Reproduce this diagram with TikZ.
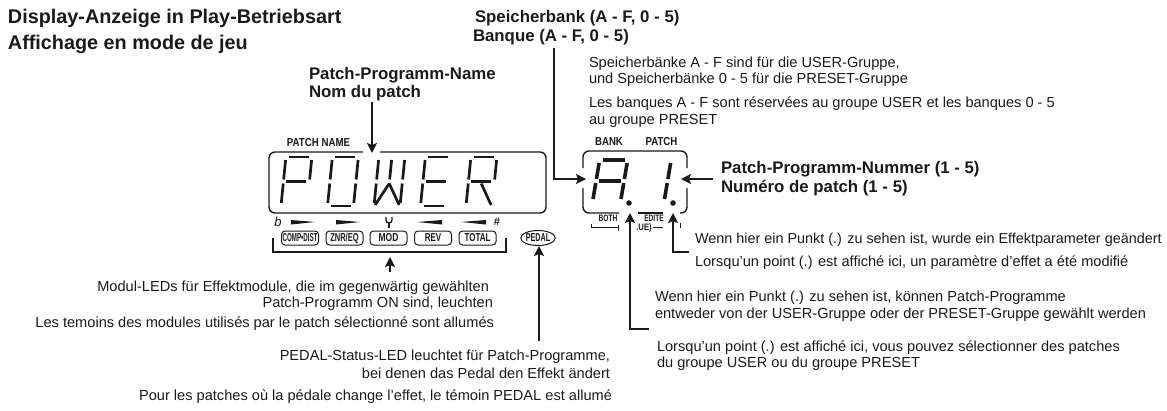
\documentclass[tikz,border=0pt]{standalone}
\usepackage{fontspec}
\usepackage{graphicx}
\setmainfont{Liberation Sans}[Ligatures=ResetAll]
\usetikzlibrary{arrows.meta,shapes.geometric}
\definecolor{ink}{HTML}{1A1A1A}
\tikzset{
  txt/.style={inner sep=0pt,outer sep=0pt,text=ink,font=\fontsize{14.6}{17}\selectfont},
  tl/.style={txt,anchor=base west},
  tr/.style={txt,anchor=base east},
  hd/.style={txt,anchor=base west,font=\fontsize{16.8}{19}\bfseries\selectfont},
  ttl/.style={txt,anchor=base west,font=\fontsize{19.8}{22}\bfseries\selectfont},
  small/.style={txt,anchor=center,font=\fontsize{11}{11}\bfseries\selectfont},
  lcd/.style={line width=1.4pt,draw=ink,rounded corners=6pt},
  segl/.style={line width=2.7pt,draw=ink,line cap=butt},
  wire/.style={line width=1.6pt,draw=ink},
  arr/.style={wire,-{Stealth[length=10pt,width=10pt,inset=2pt]}},
  btn/.style={draw=ink,line width=1pt,rounded corners=3.5pt,minimum width=37pt,minimum height=14pt,inner sep=0pt,text=ink,font=\fontsize{10}{10}\bfseries\selectfont},
  wedge/.style={fill=ink,draw=none}
}
\newcommand\ssg[4]{\draw[segl] ({\ox+#1+\slnt*(#2)},{\oy-(#2)}) -- ({\ox+#3+\slnt*(#4)},{\oy-(#4)});}
\newcommand\sT{\ssg{3}{\hh}{\ww-3}{\hh}}
\newcommand\sUR{\ssg{\ww}{\hh-3}{\ww}{\hh/2+2}}
\newcommand\sLR{\ssg{\ww}{\hh/2-2}{\ww}{3}}
\newcommand\sB{\ssg{3}{0}{\ww-3}{0}}
\newcommand\sLL{\ssg{0}{\hh/2-2}{0}{3}}
\newcommand\sUL{\ssg{0}{\hh-3}{0}{\hh/2+2}}
\newcommand\sM{\ssg{3}{\hh/2}{\ww-3}{\hh/2}}
\begin{document}
\begin{tikzpicture}[x=1pt,y=-1pt]
\useasboundingbox (0,0) rectangle (1167,410);
% titles
\node[ttl] (t1) at (8,23) {Display-Anzeige in Play-Betriebsart};
\node[ttl] (t2) at (8,49) {Affichage en mode de jeu};
\node[hd] (pn1) at (309,79) {Patch-Programm-Name};
\node[hd] (pn2) at (309,97) {Nom du patch};
\node[hd] (sb1) at (475,22) {Speicherbank (A - F, 0 - 5)};
\node[hd] (sb2) at (473,41) {Banque (A - F, 0 - 5)};
\node[hd] (pnr1) at (721,173) {Patch-Programm-Nummer (1 - 5)};
\node[hd] (pnr2) at (721,192) {Num\'ero de patch (1 - 5)};
% explanations
\node[tl] (e1) at (589,67) {Speicherb\"anke A - F sind f\"ur die USER-Gruppe,};
\node[tl] (e2) at (589,83) {und Speicherb\"anke 0 - 5 f\"ur die PRESET-Gruppe};
\node[tl] (e3) at (589,107) {Les banques A - F sont r\'eserv\'ees au groupe USER et les banques 0 - 5};
\node[tl] (e4) at (589,124) {au groupe PRESET};
\node[tl,font=\fontsize{14.4}{17}\selectfont] (w1) at (695,243) {Wenn hier ein Punkt (.) zu sehen ist, wurde ein Effektparameter ge\"andert};
\node[tl] (w2) at (695,266) {Lorsqu'un point (.) est affich\'e ici, un param\`etre d'effet a \'et\'e modifi\'e};
\node[tl] (w3) at (655,301) {Wenn hier ein Punkt (.) zu sehen ist, k\"onnen Patch-Programme};
\node[tl] (w4) at (655,318) {entweder von der USER-Gruppe oder der PRESET-Gruppe gew\"ahlt werden};
\node[tl] (w5) at (657,351) {Lorsqu'un point (.) est affich\'e ici, vous pouvez s\'electionner des patches};
\node[tl] (w6) at (657,367) {du groupe USER ou du groupe PRESET};
\node[tr] (m1) at (489,291) {Modul-LEDs f\"ur Effektmodule, die im gegenw\"artig gew\"ahlten};
\node[tr] (m2) at (493,307) {Patch-Programm ON sind, leuchten};
\node[tr] (m3) at (494,327) {Les temoins des modules utilis\'es par le patch s\'electionn\'e sont allum\'es};
\node[tr] (p1) at (610,360) {PEDAL-Status-LED leuchtet f\"ur Patch-Programme,};
\node[tr] (p2) at (610,378) {bei denen das Pedal den Effekt \"andert};
\node[tr] (p3) at (612,400) {Pour les patches o\`u la p\'edale change l'effet, le t\'emoin PEDAL est allum\'e};
% main display
\node[small] (lpn) at (318.5,143) {\scalebox{0.88}[1.05]{PATCH NAME}};
\draw[lcd] (363,152) -- (269,152) -- (269,213) -- (546,213) -- (546,152) -- (380,152);
\coordinate (mainTop) at (372,153);
\coordinate (pnTail) at (372,102);
\draw[arr] (pnTail) -- (mainTop);
% POWER
\def\slnt{0.1}\def\ww{26}\def\hh{49}\def\oy{206}
\def\ox{281}\sT\sUR\sUL\sLL\sM
\def\ox{327.5}\sT\sUR\sLR\sB\sLL\sUL
\def\ox{374}\sUL\sLL\sUR\sLR
\ssg{\ww/2}{\hh-3}{\ww/2}{\hh/2+2}
\ssg{1}{1}{\ww/2}{\hh/2-2}\ssg{\ww/2}{\hh/2-2}{\ww-1}{1}
\def\ox{420.5}\sT\sB\sLL\sUL\sM
\def\ox{466}\sT\sUR\sUL\sLL\sM
\ssg{\ww/2}{\hh/2-2}{\ww-1}{1}
% indicators
\node[txt,font=\fontsize{13}{13}\itshape\selectfont] (flat) at (278,222) {b};
\node[txt,font=\fontsize{11}{11}\bfseries\selectfont] (sharp) at (497,222) {\#};
\fill[wedge] (291,220) -- (315,222) -- (291,224.5) -- cycle;
\fill[wedge] (336,220) -- (360,222) -- (336,224.5) -- cycle;
\fill[wedge] (442,220) -- (417,222) -- (442,224.5) -- cycle;
\fill[wedge] (486,220) -- (461,222) -- (486,224.5) -- cycle;
\draw[line width=1.4pt,draw=ink] (386,217) -- (386,220) .. controls (386,224) and (392,224) .. (392,220) -- (392,217);
\draw[line width=1.4pt,draw=ink] (389,223) -- (389,228);
% buttons
\node[btn] (b1) at (300,238) {\scalebox{0.62}[1.15]{COMP\textbullet DIST}};
\node[btn] (b2) at (344.5,238) {\scalebox{0.75}[1.15]{ZNR/EQ}};
\node[btn] (b3) at (388.5,238) {\scalebox{0.85}[1.15]{MOD}};
\node[btn] (b4) at (433,238) {\scalebox{0.8}[1.15]{REV}};
\node[btn] (b5) at (477.5,238) {\scalebox{0.8}[1.15]{TOTAL}};
\node[draw=ink,line width=1pt,ellipse,minimum width=33pt,minimum height=15pt,inner sep=0pt,text=ink,font=\fontsize{10}{10}\bfseries\selectfont] (ped) at (538,238) {\scalebox{0.72}[1.15]{PEDAL}};
\draw[line width=1.4pt,draw=ink] (273,238) -- (273,252) -- (506,252) -- (506,238);
\coordinate (modTip) at (390,257);
\coordinate (modTail) at (390,272);
\draw[arr] (modTail) -- (modTip);
\coordinate (pedTail) at (539,341);
\draw[arr] (pedTail) -- (ped.south -| pedTail);
% right display
\node[small] (lbank) at (609,142) {\scalebox{0.88}[1.05]{BANK}};
\node[small] (lpatch) at (661.5,142) {\scalebox{0.88}[1.05]{PATCH}};
\draw[lcd] (583,168) -- (583,151) -- (687,151) -- (687,168);
\draw[lcd] (583,188) -- (583,213) -- (619,213);
\draw[lcd] (638,213) -- (663,213);
\draw[lcd] (680,213) -- (687,213) -- (687,188);
\tikzset{segl/.append style={line width=3.6pt}}
\def\slnt{0.17}\def\ww{28}\def\hh{42}\def\oy{202}
\def\ox{592.5}\sT\sUR\sLR\sLL\sUL\sM
\def\ox{663}\ssg{1}{\hh-3}{1}{\hh/2+2}\ssg{1}{\hh/2-2}{1}{3}
\fill[ink] (629,203) circle[radius=2.8];
\fill[ink] (673,203) circle[radius=2.8];
\node[small] (both) at (608,218) {\scalebox{0.6}[0.85]{BOTH}};
\node[small] (edit) at (654,218) {\scalebox{0.6}[0.85]{EDITE}};
\node[small] (ue) at (644,228) {\scalebox{0.7}[0.85]{.UE)}};
\draw[line width=0.8pt,draw=ink] (591,224) -- (591,227) -- (618,227);
\draw[line width=0.8pt,draw=ink] (618,225) -- (618,231);
\draw[line width=0.8pt,draw=ink] (653,227) -- (663,227);
\draw[line width=0.8pt,draw=ink] (680,223) -- (680,228);
% connectors
\coordinate (bkTail) at (554,48);
\coordinate (bkTip) at (586,179);
\draw[arr] (bkTail) |- (bkTip);
\coordinate (nrTail) at (713,179);
\coordinate (nrTip) at (681,179);
\draw[arr] (nrTail) -- (nrTip);
\coordinate (d1Tail) at (649,329);
\coordinate (d1Tip) at (630,213);
\draw[arr] (d1Tail) -| (d1Tip);
\coordinate (d2Tail) at (689,252);
\coordinate (d2Tip) at (673,213);
\draw[arr] (d2Tail) -| (d2Tip);
\end{tikzpicture}
\end{document}
